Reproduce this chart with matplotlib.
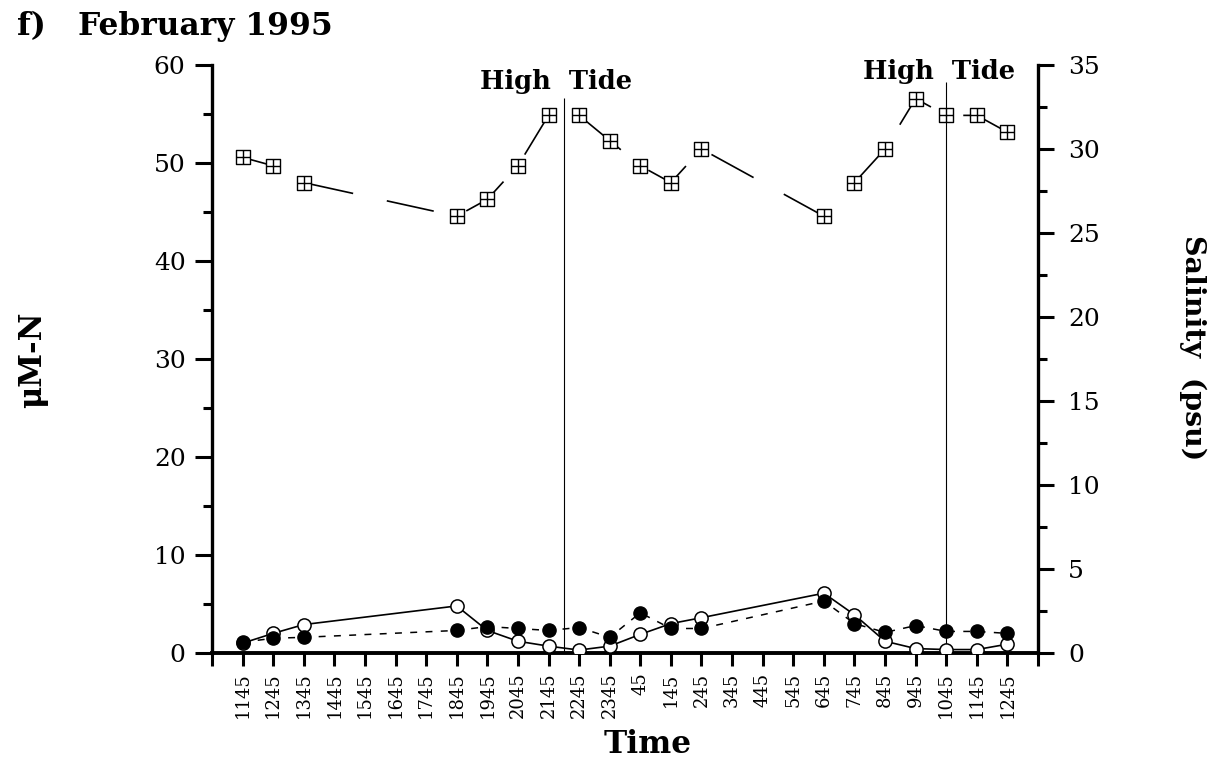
import matplotlib
matplotlib.use("Agg")
import matplotlib.pyplot as plt
from matplotlib.path import Path
from matplotlib.ticker import MultipleLocator

plt.rcParams["font.family"] = ["DejaVu Serif"]
plt.rcParams["lines.scale_dashes"] = False

# sampling times, in hours after the 11:45 start
hours = [0, 1, 2, 7, 8, 9, 10, 11, 12, 13, 14, 15, 19, 20, 21, 22, 23, 24, 25]
salinity = [29.5, 29.0, 28.0, 26.0, 27.0, 29.0, 32.0, 32.0, 30.5, 29.0,
            28.0, 30.0, 26.0, 28.0, 30.0, 33.0, 32.0, 32.0, 31.0]
n_open = [1.0, 2.0, 2.9, 4.8, 2.3, 1.2, 0.7, 0.3, 0.7, 1.9,
          3.0, 3.6, 6.1, 3.9, 1.2, 0.45, 0.35, 0.35, 0.9]
n_filled = [1.1, 1.5, 1.6, 2.3, 2.7, 2.5, 2.3, 2.6, 1.6, 4.1,
            2.5, 2.5, 5.3, 3.0, 2.1, 2.8, 2.2, 2.2, 2.0]

time_labels = ["1145", "1245", "1345", "1445", "1545", "1645", "1745",
               "1845", "1945", "2045", "2145", "2245", "2345", "45", "145",
               "245", "345", "445", "545", "645", "745", "845", "945",
               "1045", "1145", "1245"]
high_tide_hours = [10.5, 23]

# square with a cross through it
box_cross = Path(
    [(-1, -1), (1, -1), (1, 1), (-1, 1), (-1, -1), (-1, 0), (1, 0), (0, -1), (0, 1)],
    [Path.MOVETO, Path.LINETO, Path.LINETO, Path.LINETO, Path.CLOSEPOLY,
     Path.MOVETO, Path.LINETO, Path.MOVETO, Path.LINETO],
)

fig = plt.figure(figsize=(12.28, 7.6), dpi=100)
ax = fig.add_axes([0.1726, 0.1408, 0.6727, 0.7737])
ax2 = ax.twinx()

ax.plot(hours, n_open, color="black", lw=1.2, marker="o", ms=9.5,
        mfc="white", mec="black", mew=1.1, zorder=3)
ax.plot(hours, n_filled, color="black", lw=1.1, linestyle=(0, (5, 6)),
        marker="o", ms=9.5, mfc="black", mec="black", zorder=4)
ax2.plot(hours, salinity, color="black", lw=1.2,
         linestyle=(9.6, (34.6, 24.8)),
         marker=box_cross, ms=9.5, mfc="white", mec="black", mew=1.0)

for h, top, label_y in zip(high_tide_hours, [56.6, 58.3], [57.6, 58.6]):
    ax.vlines(h, 0, top, color="black", lw=0.8)
    ax.text(h - 0.25, label_y, "High  Tide", ha="center", va="baseline",
            fontsize=18.5, fontweight="bold")

ax.set_xlim(-1, 26)
ax.set_ylim(0, 60)
ax2.set_ylim(0, 35)

ax.set_xticks(range(-1, 27))
ax.set_xticklabels([""] + time_labels + [""], rotation=90)
ax.yaxis.set_major_locator(MultipleLocator(10))
ax.yaxis.set_minor_locator(MultipleLocator(5))
ax2.yaxis.set_major_locator(MultipleLocator(5))
ax2.yaxis.set_minor_locator(MultipleLocator(2.5))

for spine in ["top", "right"]:
    ax.spines[spine].set_visible(False)
for spine in ["top", "left", "bottom"]:
    ax2.spines[spine].set_visible(False)
ax.spines["left"].set_linewidth(2.4)
ax.spines["bottom"].set_linewidth(2.8)
ax2.spines["right"].set_linewidth(2.4)

ax.tick_params(axis="x", direction="out", length=9, width=2.2, pad=5,
               labelsize=13)
ax.tick_params(axis="y", which="major", direction="out", length=12,
               width=2.2, pad=7, labelsize=18)
ax.tick_params(axis="y", which="minor", direction="out", length=6.5,
               width=2.2)
ax2.tick_params(axis="y", which="major", direction="out", length=11.5,
                width=2.2, pad=10, labelsize=18)
ax2.tick_params(axis="y", which="minor", direction="out", length=6.5,
                width=2.2)

fig.text(17 / 1228, 1 - 35 / 760, "f)", fontsize=23, fontweight="bold",
         ha="left", va="baseline")
fig.text(78 / 1228, 1 - 35 / 760, "February 1995", fontsize=22.5,
         fontweight="bold", ha="left", va="baseline")
fig.text(33 / 1228, 1 - 360 / 760, "\u03bcM-N", fontsize=22,
         fontweight="bold", rotation=90, ha="center", va="center")
fig.text(1193 / 1228, 1 - 348 / 760, "Salinity  (psu)", fontsize=20.5,
         fontweight="bold", rotation=270, ha="center", va="center")
fig.text(648 / 1228, 1 - 753 / 760, "Time", fontsize=22.5,
         fontweight="bold", ha="center", va="baseline")

fig.savefig("out.png", dpi=100)
